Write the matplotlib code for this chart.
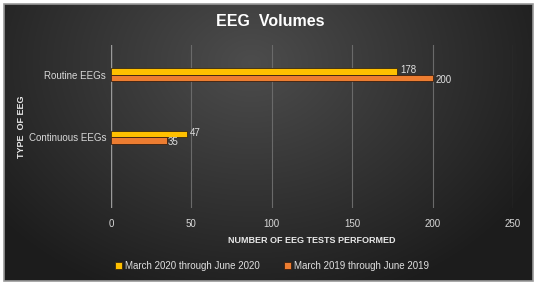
import numpy as np
import matplotlib.pyplot as plt
from matplotlib.patches import Rectangle

# data
categories = ["Continuous EEGs", "Routine EEGs"]
series_names = ["March 2020 through June 2020", "March 2019 through June 2019"]
vals_2020 = [47, 178]
vals_2019 = [35, 200]
colors = ["#FFC000", "#ED7D31"]

W, H = 536, 285
fig = plt.figure(figsize=(W / 100, H / 100), dpi=100)
fig.patch.set_facecolor("white")

# background with radial gradient
bg = fig.add_axes([0, 0, 1, 1], zorder=-10)
bg.axis("off")
yy, xx = np.mgrid[0:H, 0:W]
d = np.sqrt(((xx - 250) / 330.0) ** 2 + ((yy - 60) / 260.0) ** 2)
g = np.clip(0.30 - 0.19 * d, 0.11, 0.30)
img = np.dstack([g, g, g])
bg.imshow(img, extent=[4, 533, 281, 4], aspect="auto", interpolation="bilinear")
bg.add_patch(Rectangle((4, 4), 529, 277, fill=False, edgecolor="#9a9a9a", lw=1.2))
bg.set_xlim(0, W)
bg.set_ylim(H, 0)

# plot axes: x 0 -> px 111, 250 -> px 513 ; y top 45, bottom 208
left = 111 / W
width = (513 - 111) / W
bottom = 1 - 208 / H
height = (208 - 45) / H
ax = fig.add_axes([left, bottom, width, height])
ax.set_facecolor("none")

y = np.arange(len(categories))
bh = 0.105
ax.barh(y + bh / 2, vals_2020, height=bh, color=colors[0], edgecolor="#3a2a10", lw=0.6,
        label=series_names[0], zorder=3)
ax.barh(y - bh / 2, vals_2019, height=bh, color=colors[1], edgecolor="#3a2010", lw=0.6,
        label=series_names[1], zorder=3)

for yi, v in zip(y, vals_2020):
    ax.text(v + 2, yi + bh / 2 + 0.02, str(v), color="#e0e0e0", fontsize=7,
            va="center", ha="left", family="Liberation Sans")
for yi, v in zip(y, vals_2019):
    ax.text(v + (0 if v < 50 else 2), yi - bh / 2 - 0.03, str(v), color="#e0e0e0",
            fontsize=7, va="center", ha="left", family="Liberation Sans")

ax.set_xlim(0, 250)
ax.set_ylim(-1.14, 1.48)
ax.set_xticks([0, 50, 100, 150, 200, 250])
ax.set_yticks(y)
ax.set_yticklabels(categories)
ax.tick_params(axis="both", length=0, colors="#d8d8d8", labelsize=7)
ax.tick_params(axis="x", pad=8)
for lab in ax.get_xticklabels() + ax.get_yticklabels():
    lab.set_family("Liberation Sans")
ax.xaxis.grid(True, color="#6a6a6a", lw=0.8, zorder=0)
ax.axvline(0, color="#9a9a9a", lw=1.0, zorder=2)
for s in ax.spines.values():
    s.set_visible(False)

ax.set_xlabel("NUMBER OF EEG TESTS PERFORMED", color="#e8e8e8", fontsize=6.5,
              fontweight="bold", family="Liberation Sans", labelpad=5)
ax.set_ylabel("TYPE  OF EEG", color="#e8e8e8", fontsize=6.5, fontweight="bold",
              family="Liberation Sans", labelpad=2)

fig.text(270 / W, 1 - 22 / H, "EEG  Volumes", color="white", fontsize=11.5,
         fontweight="bold", ha="center", va="center", family="Liberation Sans")

leg = fig.legend(loc="center", bbox_to_anchor=(272 / W, 1 - 266 / H), ncol=2,
                 frameon=False, handlelength=0.7, handleheight=0.7,
                 columnspacing=2.5, handletextpad=0.3,
                 prop={"family": "Liberation Sans", "size": 7})
for t in leg.get_texts():
    t.set_color("#e0e0e0")

fig.savefig("out.png", dpi=100)
